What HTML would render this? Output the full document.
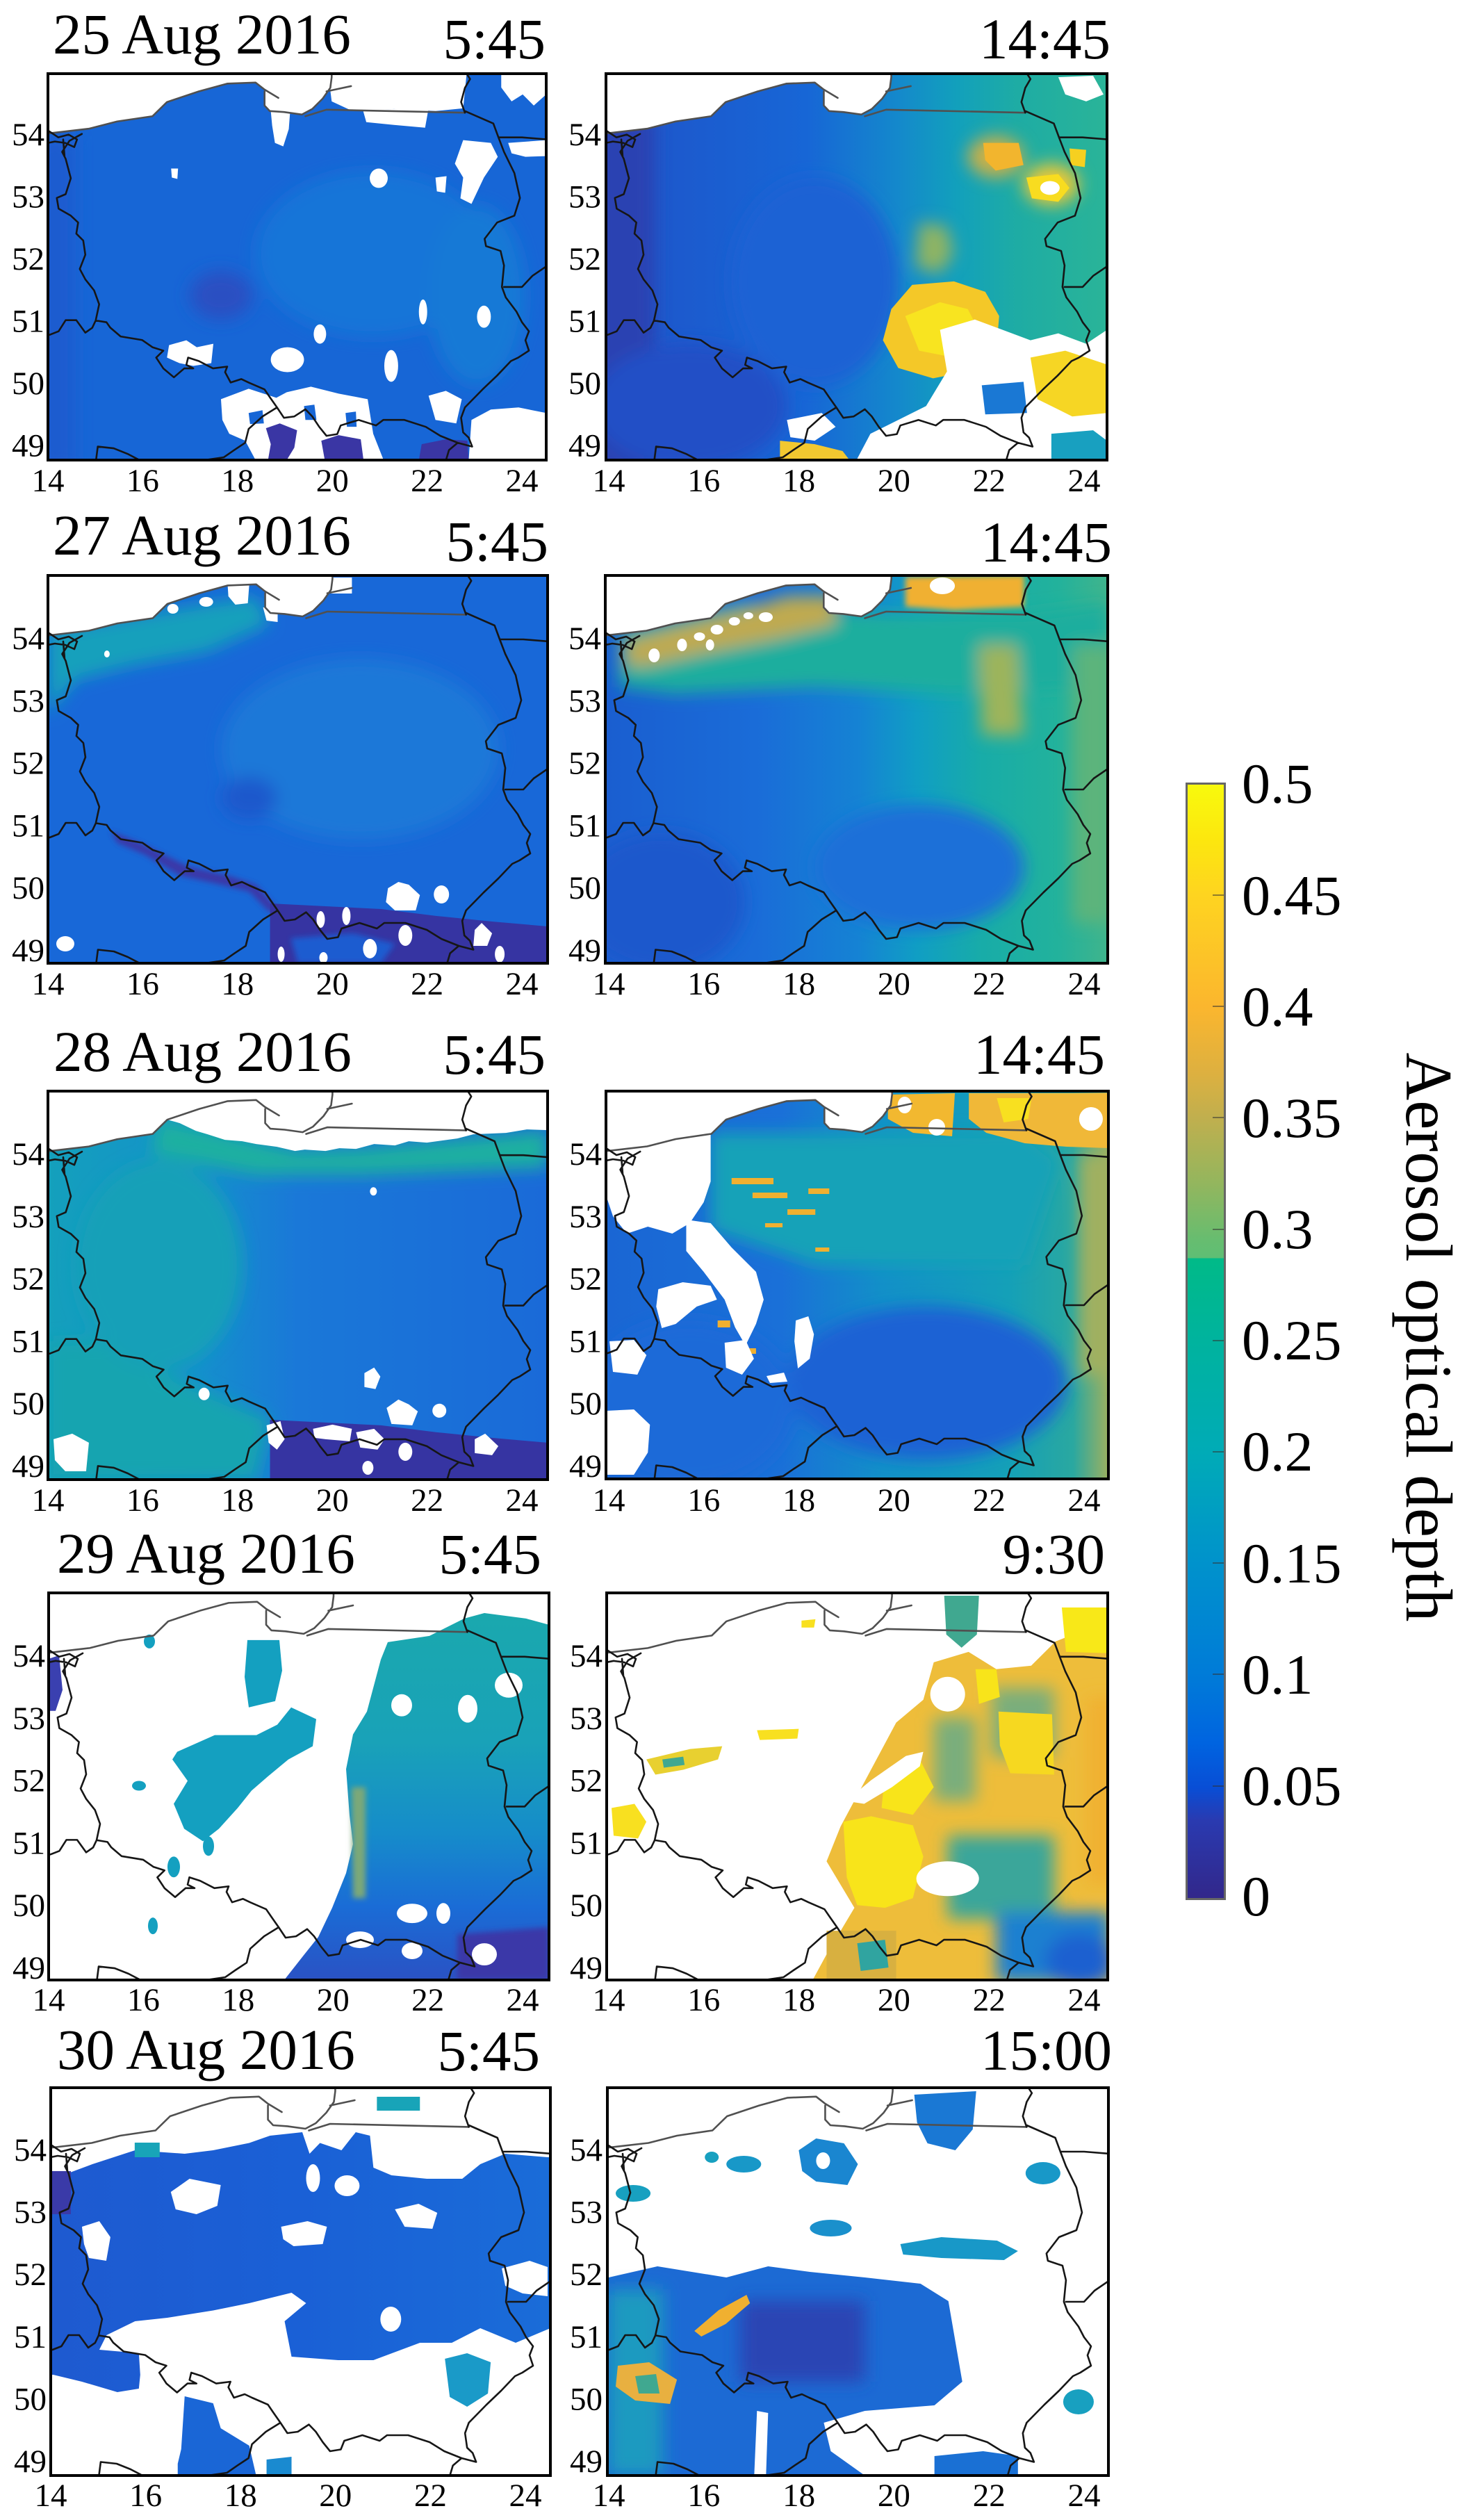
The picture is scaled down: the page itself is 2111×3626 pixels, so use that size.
<!DOCTYPE html>
<html><head><meta charset="utf-8"><style>
html,body{margin:0;padding:0;background:#fff;}
svg{display:block;}
text{font-family:"Liberation Serif","Times New Roman",serif;fill:#000;}
</style></head><body>
<svg xmlns="http://www.w3.org/2000/svg" width="2111" height="3626" viewBox="0 0 2111 3626">
<defs>
<filter id="b10" x="-30%" y="-30%" width="160%" height="160%"><feGaussianBlur stdDeviation="12"/></filter>
<filter id="b4" x="-30%" y="-30%" width="160%" height="160%"><feGaussianBlur stdDeviation="4"/></filter>
<linearGradient id="cb" x1="0" y1="0" x2="0" y2="1">
<stop offset="0" stop-color="#f8fa0d"/><stop offset="0.05" stop-color="#fce70e"/><stop offset="0.1" stop-color="#fed420"/><stop offset="0.2" stop-color="#fbb62e"/><stop offset="0.26" stop-color="#ddb040"/><stop offset="0.3" stop-color="#c0af4e"/><stop offset="0.36" stop-color="#92b65e"/><stop offset="0.41" stop-color="#66bd70"/><stop offset="0.425" stop-color="#5fbe74"/><stop offset="0.426" stop-color="#00ba88"/><stop offset="0.5" stop-color="#00b39e"/><stop offset="0.6" stop-color="#00abb7"/><stop offset="0.7" stop-color="#0092cc"/><stop offset="0.8" stop-color="#007bd8"/><stop offset="0.86" stop-color="#0064e0"/><stop offset="0.9" stop-color="#084ed6"/><stop offset="0.93" stop-color="#2a3ab0"/><stop offset="1" stop-color="#32278a"/>
</linearGradient>
<linearGradient id="g1r" x1="0" y1="0" x2="1" y2="0"><stop offset="0" stop-color="#2c44b4"/><stop offset="0.1" stop-color="#1d58cc"/><stop offset="0.4" stop-color="#1766d6"/><stop offset="0.58" stop-color="#1488cc"/><stop offset="0.7" stop-color="#12a0bc"/><stop offset="0.82" stop-color="#1eaca4"/><stop offset="1" stop-color="#2ab498"/></linearGradient>
<linearGradient id="g2r" x1="0" y1="0" x2="1" y2="0"><stop offset="0" stop-color="#1a5ed0"/><stop offset="0.3" stop-color="#1a6cd8"/><stop offset="0.5" stop-color="#1582d4"/><stop offset="0.62" stop-color="#109ec4"/><stop offset="0.75" stop-color="#18aca8"/><stop offset="0.9" stop-color="#22b29c"/><stop offset="1" stop-color="#40b48c"/></linearGradient>
<linearGradient id="g3l" x1="0" y1="0" x2="1" y2="0"><stop offset="0" stop-color="#14a0bc"/><stop offset="0.3" stop-color="#1490cc"/><stop offset="0.5" stop-color="#1a78d8"/><stop offset="1" stop-color="#1a6ad8"/></linearGradient>
<linearGradient id="g3r" x1="0" y1="0" x2="1" y2="0"><stop offset="0" stop-color="#1a66d4"/><stop offset="0.35" stop-color="#1a70d8"/><stop offset="0.55" stop-color="#1290c8"/><stop offset="0.8" stop-color="#14a0b8"/><stop offset="0.93" stop-color="#2aa8a0"/><stop offset="1" stop-color="#9cb060"/></linearGradient>
<linearGradient id="g4l" x1="0" y1="0" x2="0" y2="1"><stop offset="0" stop-color="#1aa8ae"/><stop offset="0.35" stop-color="#19a2b8"/><stop offset="0.6" stop-color="#168cca"/><stop offset="0.8" stop-color="#1a6cd6"/><stop offset="1" stop-color="#2a52c4"/></linearGradient>
<linearGradient id="g5l" x1="0" y1="0" x2="1" y2="0"><stop offset="0" stop-color="#1e5ad0"/><stop offset="0.5" stop-color="#1a60d6"/><stop offset="1" stop-color="#1a6cd8"/></linearGradient>
<path id="sea" fill="#fff" d="M0,0 L410,0 L408,20 L397,36 L382,51 L367,59 L341,55 L320,54 L313,46 L313,23 L300,13 L259,14 L218,26 L172,41 L151,61 L100,69 L59,79 L2,86 L0,86 Z"/>
<g id="bd" fill="none" stroke-linejoin="round" stroke-linecap="round">
<path stroke="#505050" stroke-width="2.6" d="M0,86 L3,86 L59,79.5 L100,69 L151,61.5 L172,41 L218,25.6 L259,14.4 L300,12.8 L313,23 L333,35 M313,25.6 L313,46 L320.5,54 L341,55.4 L367,59 L382,51 L397,36 L408,20.5 L410,5 L410,0 M402.5,25.6 L438,18 M372,61.5 L402.5,52 L602.5,56.4"/>
<path stroke="#161616" stroke-width="2.6" d="M602.5,56.4 L597,41 L602.5,20.5 L610,7.7 L605,0 M602.5,54 L643.6,72 L651,92 L659,113 L674,143.6 L682,179.5 L674,205 L649,215 L631,238.5 L633,249 L654,256 L659,277 L656,308 L661.5,323 L677,343.6 L685,359 L695,372 L690,385 L695,400 L679.5,410 L669,415 L649,436 L628,456 L602.5,482 L597,497 L600,518 L608,525.6 L613,538.5 L592,533 L567,523 L546,510 L515,500 L484.6,500 L474,508 L449,500 L423,508 L418,520.5 L402.5,523 L392,510 L382,495 L372,484.6 L356,495 L341,497 L331,482 L320.5,467 L313,456 L290,446 L279.5,441 L264,446 L256,431 L259,423 L238.5,425.6 L218,415 L202.5,410 L200,420.5 L210,425.6 L197,425.6 L182,438.5 L166.7,425.6 L156.4,410 L166.7,400 L151,395 L136,384.6 L105,379.5 L90,366.7 L84.6,359 L69,356.4 L74,333 L66.7,313 L54,297 L46,282 L54,261.5 L51,241 L41,231 L43.6,215 L33,205 L15.4,195 L12.8,179.5 L25.6,174 L33,151 L25.6,123 L20.5,113 L31,97 L49,87 M2.6,377 L15.4,372 L25.6,356 L41,356 L54,374 L64,367 L69,356.4 M331,482 L310,495 L290,513 L285,533 L269,543.6 L254,554 L213,560 M69,562 L72,538.5 L95,541 L115,549 L136,560 M592,533 L579.5,543.6 L574,562 M659,308 L685,308 L700,292 L722,277 M651,92 L685,92 L722,95 M0,82 L15,92 L30,88 L42,95 L38,106 L25,100 L10,98 L0,100 M22,95 L24,120"/>
</g>
</defs>

<!-- ===== Row 1 ===== -->
<text x="76" y="77" font-size="83">25 Aug 2016</text>
<text x="785" y="84" font-size="83" text-anchor="end">5:45</text>
<text x="1598" y="84" font-size="83" text-anchor="end">14:45</text>

<svg x="69" y="106" width="717" height="556" viewBox="0 0 720 558" preserveAspectRatio="none">
<rect width="720" height="558" fill="#1766d6"/>
<g filter="url(#b10)">
<ellipse cx="470" cy="260" rx="170" ry="120" fill="#1774d8"/>
<ellipse cx="250" cy="320" rx="45" ry="35" fill="#2a50c2"/>
<rect x="-20" y="90" width="60" height="480" fill="#1e5ccf"/>
<ellipse cx="620" cy="320" rx="70" ry="130" fill="#1679d6"/>
</g>
<g fill="#fff">
<use href="#sea"/>
<path d="M405,0 L605,0 L600,50 L560,54 L500,51 L440,54 L410,40Z"/>
<path d="M455,52 L550,50 L545,78 L500,74 L460,70Z"/>
<path d="M322,54 L350,54 L348,80 L340,105 L328,100 L324,75Z"/>
<ellipse cx="478" cy="151" rx="13" ry="14"/>
<path d="M600,96 L640,100 L650,120 L630,150 L612,188 L596,180 L600,150 L588,130Z"/>
<path d="M560,150 L576,148 L574,172 L562,170Z"/>
<path d="M655,0 L720,0 L720,30 L702,46 L686,30 L670,40 L655,20Z"/>
<path d="M665,100 L720,96 L720,119 L690,120 L670,115Z"/>
<ellipse cx="542" cy="344" rx="6" ry="18"/>
<ellipse cx="630" cy="351" rx="10" ry="16"/>
<path d="M175,392 L200,385 L215,395 L239,390 L236,418 L210,422 L190,418 L172,410Z"/>
<ellipse cx="346" cy="413" rx="24" ry="18"/>
<ellipse cx="393" cy="376" rx="9" ry="14"/>
<path d="M250,470 L290,455 L330,468 L345,460 L380,452 L420,462 L462,470 L470,520 L485,558 L300,558 L285,530 L262,520 L252,500Z"/>
<ellipse cx="496" cy="422" rx="10" ry="23"/>
<path d="M550,465 L575,458 L598,470 L590,505 L560,500Z"/>
<path d="M612,500 L640,485 L680,482 L720,490 L720,558 L608,558Z"/>
<path d="M178,137 L188,137 L187,152 L179,150Z"/>
</g>
<g fill="#3a36a4">
<path d="M315,512 L335,505 L360,515 L356,540 L345,558 L318,558 L322,535Z"/>
<path d="M395,530 L420,522 L452,528 L456,558 L400,558Z"/>
<path d="M540,535 L575,528 L606,530 L608,558 L536,558Z"/>
</g>
<g fill="#1766d6">
<path d="M290,490 L310,486 L312,505 L292,506Z"/>
<path d="M370,480 L385,478 L388,500 L372,500Z"/>
<path d="M430,490 L445,488 L446,510 L432,510Z"/>
</g>
<use href="#bd"/>
</svg>

<svg x="872" y="106" width="721" height="556" viewBox="0 0 720 558" preserveAspectRatio="none">
<rect width="720" height="558" fill="url(#g1r)"/>
<g filter="url(#b10)">
<rect x="-20" y="60" width="90" height="520" fill="#2c42b2"/>
<ellipse cx="120" cy="480" rx="140" ry="90" fill="#2450c6"/>
<ellipse cx="300" cy="300" rx="120" ry="150" fill="#1a62d4"/>
<path fill="#8fb464" d="M450,215 L490,220 L500,260 L480,289 L445,280Z"/>
<ellipse cx="560" cy="120" rx="40" ry="30" fill="#c8b04a"/>
<ellipse cx="640" cy="160" rx="40" ry="30" fill="#e8c838"/>
</g>
<path fill="#f2b52e" d="M542,100 L593,100 L600,132 L560,140 L545,125Z"/>
<path fill="#f8dc20" d="M604,150 L650,145 L666,165 L650,185 L612,180Z"/>
<ellipse cx="638" cy="165" rx="14" ry="10" fill="#fff"/>
<path fill="#f6d020" d="M666,108 L690,110 L688,135 L668,132Z"/>
<path fill="#f4c828" d="M410,340 L440,305 L500,300 L545,315 L565,350 L560,410 L520,430 L470,440 L420,425 L398,385Z"/>
<path fill="#f8e420" d="M430,350 L480,330 L520,340 L540,380 L500,410 L450,400Z"/>
<path fill="#fff" d="M480,370 L530,355 L570,370 L610,385 L650,375 L690,390 L720,370 L720,558 L360,558 L380,520 L420,500 L460,480 L490,430Z"/>
<path fill="#f6d624" d="M610,410 L660,400 L720,420 L720,490 L670,495 L620,470Z"/>
<path fill="#1a78d4" d="M540,450 L600,445 L605,490 L545,492Z"/>
<path fill="#18a0c0" d="M640,520 L700,515 L720,530 L720,558 L640,558Z"/>
<path fill="#fff" d="M260,500 L310,490 L330,510 L300,530 L265,525Z"/>
<path fill="#f2c830" d="M250,530 L300,535 L340,545 L350,558 L250,558Z"/>
<path fill="#fff" d="M650,5 L700,3 L715,30 L690,40 L660,30Z"/>
<use href="#sea"/>
<use href="#bd"/>
</svg>

<!-- ===== Row 2 ===== -->
<text x="76" y="798" font-size="83">27 Aug 2016</text>
<text x="789" y="807" font-size="83" text-anchor="end">5:45</text>
<text x="1600" y="808" font-size="83" text-anchor="end">14:45</text>

<svg x="69" y="828" width="719" height="558" viewBox="0 0 720 558" preserveAspectRatio="none">
<rect width="720" height="558" fill="#1868d8"/>
<g filter="url(#b10)">
<ellipse cx="450" cy="250" rx="200" ry="130" fill="#1a78d8"/>
<path fill="#14a0bc" d="M0,80 L230,40 L300,30 L320,70 L230,110 L120,130 L40,150 L0,200Z"/>
<ellipse cx="290" cy="320" rx="40" ry="30" fill="#1f58cc"/>
</g>
<path fill="#3a38a8" filter="url(#b4)" d="M90,368 L136,386 L200,418 L260,432 L300,445 L330,478 L320,485 L290,455 L240,443 L190,432 L140,402 L100,385Z"/>
<path fill="#3634a2" d="M320,472 L400,476 L480,480 L560,490 L640,498 L720,505 L720,558 L320,558Z"/>
<path fill="#1f5cd0" filter="url(#b4)" d="M350,522 L440,515 L500,530 L480,558 L360,558Z"/>
<g fill="#fff">
<use href="#sea"/>
<path d="M408,3 L438,3 L438,26 L408,26Z"/>
<path d="M490,450 L505,441 L520,445 L536,460 L530,482 L500,482 L487,470Z"/>
<ellipse cx="567" cy="459" rx="11" ry="13"/>
<ellipse cx="25" cy="530" rx="13" ry="11"/>
<ellipse cx="515" cy="518" rx="10" ry="15"/>
<ellipse cx="464" cy="537" rx="10" ry="14"/>
<path d="M615,510 L625,500 L640,515 L633,533 L613,533Z"/>
<ellipse cx="430" cy="490" rx="6" ry="13"/>
<ellipse cx="393" cy="495" rx="6" ry="12"/>
<ellipse cx="336" cy="545" rx="5" ry="11"/>
<ellipse cx="397" cy="550" rx="6" ry="8"/>
<ellipse cx="651" cy="545" rx="7" ry="12"/>
<ellipse cx="180" cy="48" rx="8" ry="7"/>
<ellipse cx="228" cy="38" rx="10" ry="7"/>
<path d="M259,15 L290,14 L288,40 L270,42 L260,30Z"/>
<ellipse cx="85" cy="113" rx="4" ry="5"/>
<path d="M310,46 L331,46 L331,67 L315,65Z"/>
</g>
<use href="#bd"/>
</svg>

<svg x="871" y="828" width="723" height="558" viewBox="0 0 720 558" preserveAspectRatio="none">
<rect width="720" height="558" fill="url(#g2r)"/>
<g filter="url(#b10)">
<path fill="#1eae9e" d="M20,80 L200,40 L410,55 L600,56 L720,40 L720,160 L500,170 L300,160 L100,170 L20,160Z"/>
<ellipse cx="450" cy="420" rx="150" ry="90" fill="#1a70d8"/>
<ellipse cx="80" cy="470" rx="120" ry="100" fill="#1c58cc"/>
<path fill="#9cb45c" d="M535,100 L590,100 L600,230 L540,230Z"/>
<rect x="670" y="100" width="60" height="400" fill="#5cb47c"/>
<path fill="#c0aa50" d="M30,95 L100,75 L200,50 L260,30 L330,30 L330,70 L250,90 L150,110 L60,130 L30,130Z"/>
</g>
<path fill="#f0b030" filter="url(#b4)" d="M430,2 L600,0 L600,45 L500,50 L430,45Z"/>
<g fill="#fff">
<ellipse cx="110" cy="100" rx="7" ry="9"/>
<ellipse cx="135" cy="88" rx="8" ry="6"/>
<ellipse cx="160" cy="78" rx="9" ry="7"/>
<ellipse cx="185" cy="66" rx="8" ry="6"/>
<ellipse cx="205" cy="58" rx="7" ry="5"/>
<ellipse cx="150" cy="100" rx="6" ry="8"/>
<ellipse cx="230" cy="60" rx="10" ry="7"/>
<ellipse cx="70" cy="115" rx="8" ry="10"/>
<ellipse cx="483" cy="15" rx="18" ry="12"/>
<use href="#sea"/>
</g>
<use href="#bd"/>
</svg>

<!-- ===== Row 3 ===== -->
<text x="77" y="1541" font-size="83">28 Aug 2016</text>
<text x="785" y="1545" font-size="83" text-anchor="end">5:45</text>
<text x="1590" y="1545" font-size="83" text-anchor="end">14:45</text>

<svg x="69" y="1570" width="719" height="559" viewBox="0 0 720 558" preserveAspectRatio="none">
<rect width="720" height="558" fill="url(#g3l)"/>
<g filter="url(#b10)">
<path fill="#1eb0a0" d="M160,40 L360,85 L450,82 L720,56 L720,110 L450,120 L300,120 L150,90Z"/>
<path fill="#18a4b0" d="M0,360 L70,356 L200,420 L320,470 L300,558 L0,558Z"/>
<ellipse cx="160" cy="250" rx="120" ry="150" fill="#17a0b8"/>
</g>
<path fill="#3634a2" d="M320,472 L400,476 L480,480 L560,490 L640,498 L720,505 L720,558 L320,558Z"/>
<g fill="#fff">
<path d="M0,0 L720,0 L720,56 L690,55 L660,60 L613,62 L590,68 L546,74 L520,72 L500,78 L470,76 L444,83 L420,82 L400,86 L370,84 L356,86 L330,80 L300,76 L280,72 L255,70 L230,62 L213,57 L190,46 L172,41 L151,61 L100,69 L59,79 L2,86 L0,86 Z"/>
<path d="M456,405 L470,397 L479,410 L472,428 L456,425Z"/>
<path d="M488,455 L505,443 L520,450 L533,460 L525,480 L495,478Z"/>
<ellipse cx="564" cy="459" rx="10" ry="10"/>
<path d="M8,500 L35,492 L59,505 L55,546 L25,546 L10,530Z"/>
<ellipse cx="225" cy="435" rx="8" ry="9"/>
<path d="M315,480 L335,474 L341,500 L330,515 L318,505Z"/>
<path d="M382,485 L410,479 L438,485 L435,503 L400,500 L384,498Z"/>
<path d="M444,490 L470,485 L485,500 L475,515 L450,512Z"/>
<ellipse cx="515" cy="518" rx="10" ry="13"/>
<path d="M615,500 L630,492 L649,510 L640,523 L615,520Z"/>
<ellipse cx="461" cy="541" rx="8" ry="10"/>
<ellipse cx="469" cy="144" rx="5" ry="6"/>
</g>
<use href="#bd"/>
</svg>

<svg x="872" y="1570" width="723" height="558" viewBox="0 0 720 558" preserveAspectRatio="none">
<rect width="720" height="558" fill="url(#g3r)"/>
<g filter="url(#b10)">
<path fill="#12a2b8" d="M150,60 L600,60 L650,100 L600,250 L300,250 L150,200Z"/>
<ellipse cx="460" cy="420" rx="200" ry="110" fill="#1c62d4"/>
<ellipse cx="120" cy="450" rx="150" ry="120" fill="#1a6ad8"/>
<rect x="680" y="90" width="50" height="320" fill="#a0b060"/>
</g>
<path fill="#f2b830" d="M404,5 L500,3 L496,65 L440,60 L404,40Z"/>
<path fill="#f0b838" d="M520,3 L720,3 L720,82 L660,80 L600,75 L545,60 L520,40Z"/>
<path fill="#f8e020" d="M560,10 L610,10 L605,40 L570,45Z"/>
<g fill="#f0b030">
<rect x="180" y="125" width="60" height="9"/>
<rect x="210" y="146" width="50" height="8"/>
<rect x="260" y="170" width="40" height="8"/>
<rect x="290" y="140" width="30" height="8"/>
<rect x="228" y="190" width="25" height="6"/>
<rect x="300" y="225" width="20" height="6"/>
<rect x="160" y="330" width="18" height="10"/>
<rect x="200" y="370" width="15" height="8"/>
</g>
<g fill="#fff">
<use href="#sea"/>
<path d="M0,60 L60,60 L100,70 L150,60 L150,130 L140,160 L120,190 L95,205 L60,195 L30,205 L10,180 L0,150Z"/>
<path d="M115,185 L150,190 L180,225 L215,260 L226,300 L215,335 L200,366 L185,340 L170,300 L140,260 L115,230Z"/>
<path d="M75,285 L110,275 L150,280 L159,300 L130,310 L100,335 L80,341 L72,310Z"/>
<path d="M272,330 L290,324 L298,350 L292,385 L275,399 L270,360Z"/>
<path d="M5,360 L40,358 L58,380 L45,408 L10,404Z"/>
<path d="M0,460 L40,458 L63,480 L60,520 L40,552 L0,552Z"/>
<path d="M170,362 L200,358 L212,385 L195,408 L172,398Z"/>
<path d="M230,410 L255,405 L260,418 L235,420Z"/>
<ellipse cx="428" cy="20" rx="10" ry="12"/>
<ellipse cx="474" cy="52" rx="12" ry="12"/>
<ellipse cx="695" cy="40" rx="17" ry="17"/>
</g>
<use href="#bd"/>
</svg>

<!-- ===== Row 4 ===== -->
<text x="82" y="2263" font-size="83">29 Aug 2016</text>
<text x="779" y="2264" font-size="83" text-anchor="end">5:45</text>
<text x="1590" y="2264" font-size="83" text-anchor="end">9:30</text>

<svg x="70" y="2292" width="720" height="557" viewBox="0 0 720 558" preserveAspectRatio="none">
<rect width="720" height="558" fill="#fff"/>
<path fill="url(#g4l)" d="M478,96 L488,71 L548,62 L598,37 L627,29 L687,37 L720,46 L720,558 L339,558 L368,521 L388,496 L408,454 L428,404 L438,362 L433,321 L428,254 L438,204 L458,171 Z"/>
<g filter="url(#b4)">
<path fill="#7ca878" d="M436,280 L456,280 L456,440 L438,440Z"/>
<path fill="#3a38a8" d="M588,492 L720,482 L720,558 L588,558Z"/>
</g>
<g fill="#fff">
<ellipse cx="603" cy="167" rx="14" ry="20"/>
<ellipse cx="662" cy="133" rx="20" ry="18"/>
<ellipse cx="508" cy="162" rx="15" ry="16"/>
<ellipse cx="523" cy="462" rx="22" ry="14"/>
<ellipse cx="568" cy="462" rx="10" ry="15"/>
<ellipse cx="448" cy="500" rx="20" ry="12"/>
<ellipse cx="523" cy="516" rx="15" ry="12"/>
<ellipse cx="627" cy="521" rx="18" ry="16"/>
</g>
<g fill="#14a0c0">
<path d="M185,229 L239,205 L299,205 L329,190 L349,165 L385,182 L380,221 L345,240 L315,265 L292,285 L272,310 L245,340 L222,358 L195,340 L180,304 L200,271 L178,240Z"/>
<path d="M286,68 L332,68 L336,112 L326,156 L288,165 L282,121Z"/>
<ellipse cx="145" cy="70" rx="8" ry="10"/>
<ellipse cx="130" cy="278" rx="10" ry="7"/>
<ellipse cx="180" cy="395" rx="9" ry="15"/>
<ellipse cx="150" cy="480" rx="7" ry="12"/>
<ellipse cx="230" cy="365" rx="8" ry="14"/>
</g>
<path fill="#3a40b0" d="M0,95 L15,90 L20,140 L10,170 L0,170Z"/>
<use href="#bd"/>
</svg>

<svg x="873" y="2292" width="721" height="557" viewBox="0 0 720 558" preserveAspectRatio="none">
<rect width="720" height="558" fill="#fff"/>
<path fill="#eebd3a" d="M470,100 L520,85 L560,110 L610,105 L645,70 L720,40 L720,558 L296,558 L316,521 L356,454 L316,387 L336,337 L376,262 L416,187 L455,154 Z"/>
<g filter="url(#b10)">
<path fill="#7aae7c" d="M553,137 L643,137 L643,237 L553,237Z"/>
<path fill="#7aae7c" d="M470,180 L530,180 L530,300 L470,300Z"/>
<path fill="#3aa69a" d="M490,350 L643,350 L643,470 L490,470Z"/>
<path fill="#1a80d0" d="M560,460 L723,460 L723,562 L560,562Z"/>
<ellipse cx="680" cy="530" rx="50" ry="40" fill="#1a60d0"/>
<path fill="#f0b030" d="M690,150 L730,150 L730,420 L690,420Z"/>
</g>
<path fill="#f8e41a" d="M340,330 L380,322 L440,335 L455,380 L440,440 L400,454 L360,450 L345,410Z"/>
<path fill="#f8e41a" d="M400,260 L450,240 L470,280 L440,320 L395,310Z"/>
<path fill="#f6d820" d="M563,171 L640,175 L643,262 L580,260 L565,220Z"/>
<path fill="#f8e818" d="M654,21 L723,21 L723,87 L660,85Z"/>
<path fill="#f8e41a" d="M530,110 L560,110 L565,150 L535,160Z"/>
<path fill="#40a890" d="M485,4 L535,4 L532,60 L510,79 L488,60Z"/>
<g fill="#fff">
<ellipse cx="490" cy="146" rx="25" ry="25"/>
<path d="M344,300 L380,270 L430,235 L455,229 L450,250 L410,280 L370,304Z"/>
<ellipse cx="490" cy="412" rx="45" ry="25"/>
<path d="M540,0 L650,0 L645,60 L610,95 L560,95 L540,60Z"/>
</g>
<path fill="#f8e020" d="M7,310 L40,304 L57,330 L45,354 L10,350Z"/>
<path fill="#e8d030" d="M57,240 L120,225 L166,221 L160,240 L110,255 L70,262Z"/>
<path fill="#40a890" d="M80,240 L110,236 L112,248 L82,252Z"/>
<path fill="#f8e020" d="M216,198 L276,196 L274,210 L220,212Z"/>
<path fill="#f8e020" d="M280,40 L300,38 L298,50 L280,50Z"/>
<path fill="#d8b040" d="M316,487 L416,487 L416,562 L316,562Z"/>
<path fill="#30a4a0" d="M360,505 L400,500 L405,540 L365,545Z"/>
<use href="#bd"/>
</svg>

<!-- ===== Row 5 ===== -->
<text x="82" y="2977" font-size="83">30 Aug 2016</text>
<text x="777" y="2979" font-size="83" text-anchor="end">5:45</text>
<text x="1600" y="2978" font-size="83" text-anchor="end">15:00</text>

<svg x="73" y="3004" width="719" height="558" viewBox="0 0 720 558" preserveAspectRatio="none">
<rect width="720" height="558" fill="#fff"/>
<path fill="url(#g5l)" d="M0,135 L3.6,131 L60,110 L121.5,90 L193,95 L234,90 L286,79.5 L316,69 L362.5,64 L373,95 L388,79.5 L419,90 L439.5,64 L460,69 L465,115 L491,126 L542,131 L593,131 L619,110 L655,95 L716,100 L720,100 L720,346 L670,367 L619,346 L578,367 L532,367 L465,392 L414,392 L347,387 L337,336 L368,310 L347,295 L286,310 L234,320.5 L168,331 L121.5,336 L80.5,356 L70,377 L127,382 L129,413 L127,433 L96,438 L45,423 L3.6,413 L0,413 Z"/>
<path fill="#1a66d6" d="M193,444 L234,454 L245,490 L286,515 L296,558 L183,558 L183,541 L188,520 Z"/>
<path fill="#1a8ad0" d="M311,535 L347,531 L347,558 L311,558Z"/>
<path fill="#1a9ac8" d="M568,390 L600,382 L634,395 L630,440 L600,459 L575,445Z"/>
<path fill="#3a3aa8" d="M0,120 L29,120 L29,182 L0,182Z"/>
<g fill="#18a4b8">
<path d="M121,79 L157,79 L157,100 L121,100Z"/>
<path d="M470,13 L532,13 L532,33 L470,33Z"/>
</g>
<g fill="#fff">
<path d="M332,200 L370,192 L398,200 L392,225 L350,228 L335,218Z"/>
<ellipse cx="427" cy="141" rx="18" ry="15"/>
<path d="M496,175 L530,167 L557,180 L550,203 L510,200Z"/>
<ellipse cx="378" cy="130" rx="10" ry="20"/>
<path d="M173,150 L200,131 L245,140 L240,170 L210,182 L180,175Z"/>
<path d="M45,200 L70,192 L86,215 L80,249 L55,245 L48,225Z"/>
<path d="M650,260 L690,249 L716,258 L716,300 L680,296 L655,285Z"/>
<ellipse cx="490" cy="333" rx="15" ry="18"/>
</g>
<use href="#bd"/>
</svg>

<svg x="874" y="3004" width="721" height="558" viewBox="0 0 720 558" preserveAspectRatio="none">
<rect width="720" height="558" fill="#fff"/>
<path fill="#1c6ad4" d="M2,273 L72,257 L171,273 L231,257 L291,265 L370,273 L450,282 L490,307 L510,423 L470,457 L370,465 L311,482 L321,523 L370,558 L0,558 L0,273 Z"/>
<g filter="url(#b10)">
<path fill="#2c44b4" d="M191,307 L370,307 L370,423 L191,423Z"/>
<path fill="#1a9ac0" d="M0,290 L80,290 L80,558 L0,558Z"/>
</g>
<path fill="#f0b030" d="M125,350 L160,320 L200,298 L205,310 L170,340 L135,358Z"/>
<path fill="#e8b040" d="M15,400 L60,395 L100,420 L90,455 L40,450 L12,430Z"/>
<path fill="#40a890" d="M40,415 L70,412 L75,440 L45,440Z"/>
<path fill="#fff" d="M215,465 L231,468 L228,558 L211,558Z"/>
<path fill="#1a86d0" d="M275,90 L300,73 L340,80 L360,110 L345,140 L300,135 L280,120Z"/>
<ellipse cx="310" cy="105" rx="10" ry="12" fill="#fff"/>
<path fill="#1a78d4" d="M441,10 L530,5 L525,60 L500,90 L460,80 L445,50Z"/>
<path fill="#1898c8" d="M421,225 L480,215 L560,220 L590,235 L570,248 L480,245 L425,240Z"/>
<ellipse cx="626" cy="123" rx="25" ry="16" fill="#1898c8"/>
<ellipse cx="196" cy="110" rx="25" ry="12" fill="#1898c8"/>
<ellipse cx="321" cy="202" rx="30" ry="12" fill="#1a90cc"/>
<ellipse cx="677" cy="452" rx="22" ry="18" fill="#18a0c0"/>
<path fill="#1a70d4" d="M470,530 L540,523 L590,530 L590,558 L470,558Z"/>
<ellipse cx="37" cy="152" rx="25" ry="12" fill="#18a0c0"/>
<ellipse cx="150" cy="100" rx="10" ry="8" fill="#18a0c0"/>
<use href="#bd"/>
</svg>

<!-- ===== Frames ===== -->
<g fill="none" stroke="#000" stroke-width="4">
<rect x="69" y="106" width="717" height="556"/>
<rect x="872" y="106" width="721" height="556"/>
<rect x="69" y="828" width="719" height="558"/>
<rect x="871" y="828" width="723" height="558"/>
<rect x="69" y="1570" width="719" height="559"/>
<rect x="872" y="1570" width="723" height="558"/>
<rect x="70" y="2292" width="720" height="557"/>
<rect x="873" y="2292" width="721" height="557"/>
<rect x="73" y="3004" width="719" height="558"/>
<rect x="874" y="3004" width="721" height="558"/>
</g>

<!-- ===== Tick labels ===== -->
<g font-size="47" text-anchor="middle">
<text x="69" y="707">14</text><text x="205.4" y="707">16</text><text x="341.8" y="707">18</text><text x="478.2" y="707">20</text><text x="614.6" y="707">22</text><text x="751" y="707">24</text>
<text x="876" y="707">14</text><text x="1012.8" y="707">16</text><text x="1149.6" y="707">18</text><text x="1286.4" y="707">20</text><text x="1423.2" y="707">22</text><text x="1560" y="707">24</text>
<text x="69" y="1431">14</text><text x="205.4" y="1431">16</text><text x="341.8" y="1431">18</text><text x="478.2" y="1431">20</text><text x="614.6" y="1431">22</text><text x="751" y="1431">24</text>
<text x="876" y="1431">14</text><text x="1012.8" y="1431">16</text><text x="1149.6" y="1431">18</text><text x="1286.4" y="1431">20</text><text x="1423.2" y="1431">22</text><text x="1560" y="1431">24</text>
<text x="69" y="2174">14</text><text x="205.4" y="2174">16</text><text x="341.8" y="2174">18</text><text x="478.2" y="2174">20</text><text x="614.6" y="2174">22</text><text x="751" y="2174">24</text>
<text x="876" y="2174">14</text><text x="1012.8" y="2174">16</text><text x="1149.6" y="2174">18</text><text x="1286.4" y="2174">20</text><text x="1423.2" y="2174">22</text><text x="1560" y="2174">24</text>
<text x="70" y="2893">14</text><text x="206.4" y="2893">16</text><text x="342.8" y="2893">18</text><text x="479.2" y="2893">20</text><text x="615.6" y="2893">22</text><text x="752" y="2893">24</text>
<text x="876" y="2893">14</text><text x="1012.8" y="2893">16</text><text x="1149.6" y="2893">18</text><text x="1286.4" y="2893">20</text><text x="1423.2" y="2893">22</text><text x="1560" y="2893">24</text>
<text x="73" y="3606">14</text><text x="209.6" y="3606">16</text><text x="346.2" y="3606">18</text><text x="482.8" y="3606">20</text><text x="619.4" y="3606">22</text><text x="756" y="3606">24</text>
<text x="876" y="3606">14</text><text x="1012.8" y="3606">16</text><text x="1149.6" y="3606">18</text><text x="1286.4" y="3606">20</text><text x="1423.2" y="3606">22</text><text x="1560" y="3606">24</text>
</g>
<g font-size="47" text-anchor="end">
<text x="64" y="209">54</text><text x="64" y="298.5">53</text><text x="64" y="388">52</text><text x="64" y="477.5">51</text><text x="64" y="567">50</text><text x="64" y="656.5">49</text>
<text x="865" y="209">54</text><text x="865" y="298.5">53</text><text x="865" y="388">52</text><text x="865" y="477.5">51</text><text x="865" y="567">50</text><text x="865" y="656.5">49</text>
<text x="64" y="934">54</text><text x="64" y="1023.8">53</text><text x="64" y="1113.6">52</text><text x="64" y="1203.4">51</text><text x="64" y="1293.2">50</text><text x="64" y="1383">49</text>
<text x="865" y="934">54</text><text x="865" y="1023.8">53</text><text x="865" y="1113.6">52</text><text x="865" y="1203.4">51</text><text x="865" y="1293.2">50</text><text x="865" y="1383">49</text>
<text x="64" y="1676">54</text><text x="64" y="1765.8">53</text><text x="64" y="1855.6">52</text><text x="64" y="1945.4">51</text><text x="64" y="2035.2">50</text><text x="64" y="2125">49</text>
<text x="866" y="1676">54</text><text x="866" y="1765.8">53</text><text x="866" y="1855.6">52</text><text x="866" y="1945.4">51</text><text x="866" y="2035.2">50</text><text x="866" y="2125">49</text>
<text x="65" y="2398">54</text><text x="65" y="2487.8">53</text><text x="65" y="2577.6">52</text><text x="65" y="2667.4">51</text><text x="65" y="2757.2">50</text><text x="65" y="2847">49</text>
<text x="867" y="2398">54</text><text x="867" y="2487.8">53</text><text x="867" y="2577.6">52</text><text x="867" y="2667.4">51</text><text x="867" y="2757.2">50</text><text x="867" y="2847">49</text>
<text x="67" y="3109">54</text><text x="67" y="3198.6">53</text><text x="67" y="3288.2">52</text><text x="67" y="3377.8">51</text><text x="67" y="3467.4">50</text><text x="67" y="3557">49</text>
<text x="867" y="3109">54</text><text x="867" y="3198.6">53</text><text x="867" y="3288.2">52</text><text x="867" y="3377.8">51</text><text x="867" y="3467.4">50</text><text x="867" y="3557">49</text>
</g>

<!-- ===== Colorbar ===== -->
<rect x="1707.5" y="1127.5" width="55" height="1605" fill="url(#cb)" stroke="#666" stroke-width="3"/>
<g stroke="#333" stroke-width="2" stroke-opacity="0.55">
<line x1="1745" y1="1288" x2="1761" y2="1288"/><line x1="1745" y1="1448" x2="1761" y2="1448"/><line x1="1745" y1="1608" x2="1761" y2="1608"/><line x1="1745" y1="1769" x2="1761" y2="1769"/><line x1="1745" y1="1929" x2="1761" y2="1929"/><line x1="1745" y1="2089" x2="1761" y2="2089"/><line x1="1745" y1="2249" x2="1761" y2="2249"/><line x1="1745" y1="2409" x2="1761" y2="2409"/><line x1="1745" y1="2570" x2="1761" y2="2570"/>
</g>
<g font-size="82">
<text x="1787" y="1155">0.5</text>
<text x="1787" y="1316">0.45</text>
<text x="1787" y="1476">0.4</text>
<text x="1787" y="1636">0.35</text>
<text x="1787" y="1796">0.3</text>
<text x="1787" y="1956">0.25</text>
<text x="1787" y="2116">0.2</text>
<text x="1787" y="2277">0.15</text>
<text x="1787" y="2437">0.1</text>
<text x="1787" y="2597">0.05</text>
<text x="1787" y="2756">0</text>
</g>
<text transform="translate(2024,1924) rotate(90)" text-anchor="middle" font-size="95" textLength="819" lengthAdjust="spacingAndGlyphs">Aerosol optical depth</text>
</svg>
</body></html>
